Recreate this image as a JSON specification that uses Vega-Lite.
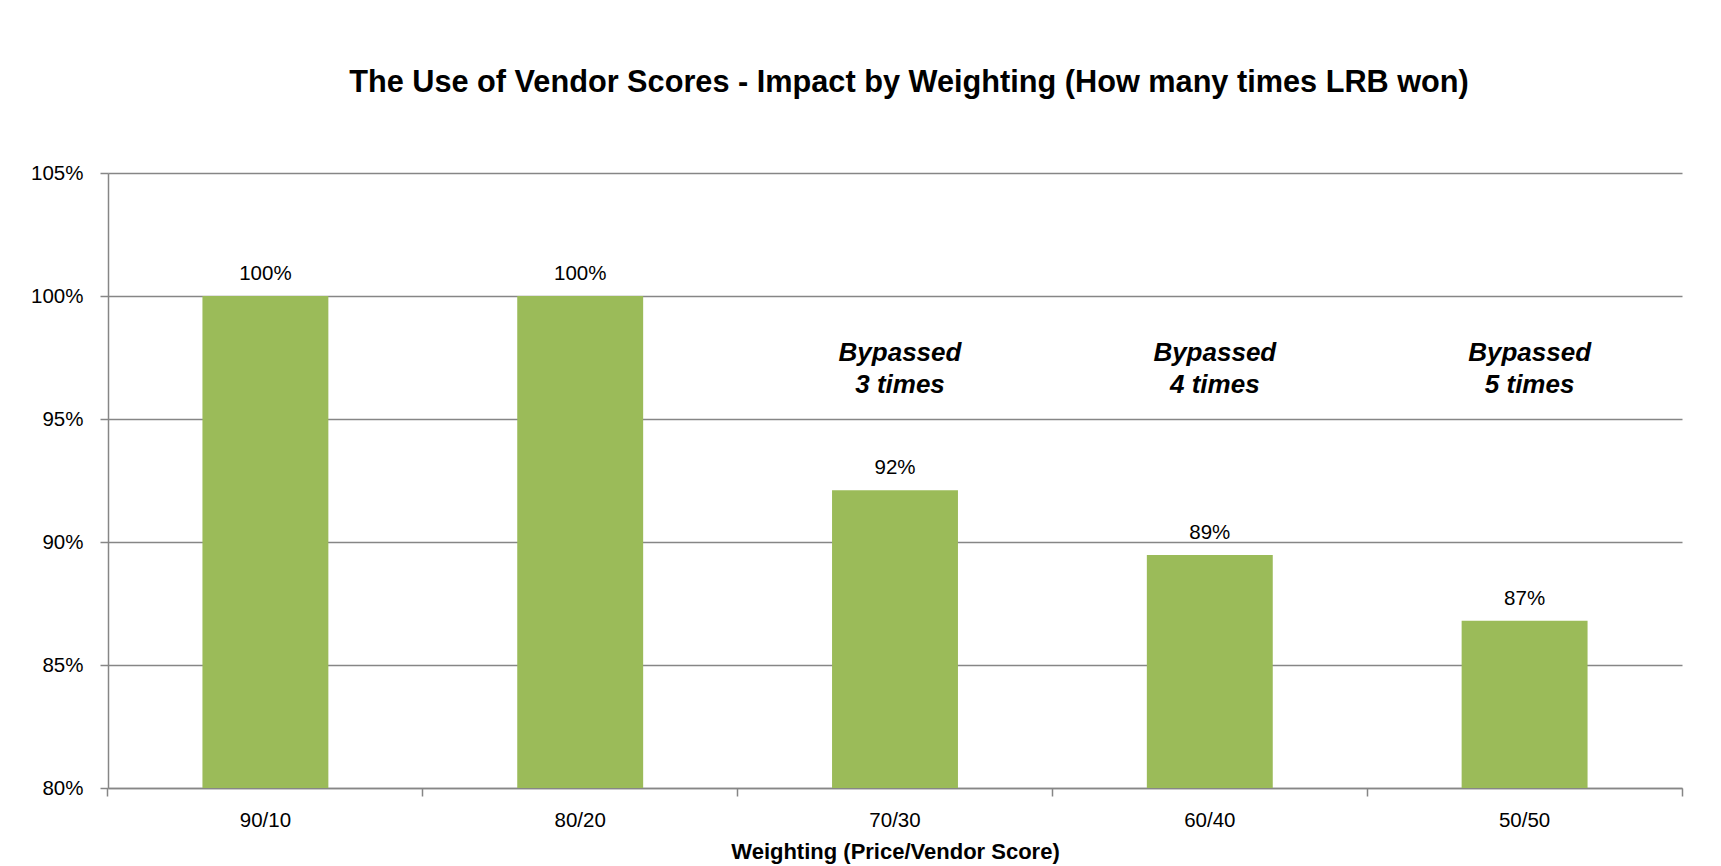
{
  "$schema": "https://vega.github.io/schema/vega-lite/v6.json",
  "width": 1574,
  "height": 615,
  "autosize": {"type": "none"},
  "padding": {"left": 108, "top": 173, "right": 39, "bottom": 78},
  "background": "white",
  "title": {
    "text": "The Use of Vendor Scores - Impact by Weighting (How many times LRB won)",
    "font": "Liberation Sans, Arial, sans-serif",
    "fontSize": 30.7,
    "fontWeight": "bold",
    "color": "#000000",
    "anchor": "middle",
    "frame": "group",
    "baseline": "alphabetic",
    "dx": 14,
    "offset": 40
  },
  "config": {
    "view": {"stroke": null},
    "axis": {
      "labelFont": "Liberation Sans, Arial, sans-serif",
      "labelFontSize": 20.5,
      "labelColor": "#000000",
      "titleFont": "Liberation Sans, Arial, sans-serif",
      "titleColor": "#000000",
      "domainColor": "#868686",
      "domainWidth": 1.5,
      "tickColor": "#868686",
      "tickWidth": 1.5,
      "gridColor": "#868686",
      "gridWidth": 1.5
    }
  },
  "data": {
    "values": [
      {"weighting": "90/10", "won": 1.0, "note": ""},
      {"weighting": "80/20", "won": 1.0, "note": ""},
      {"weighting": "70/30", "won": 0.921, "note": "Bypassed\n3 times"},
      {"weighting": "60/40", "won": 0.8947, "note": "Bypassed\n4 times"},
      {"weighting": "50/50", "won": 0.868, "note": "Bypassed\n5 times"}
    ]
  },
  "layer": [
    {
      "mark": {"type": "bar", "color": "#9BBB59"},
      "encoding": {
        "x": {
          "field": "weighting",
          "type": "nominal",
          "sort": null,
          "scale": {"paddingInner": 0.6, "paddingOuter": 0.3},
          "axis": {
            "orient": "bottom",
            "title": "Weighting (Price/Vendor Score)",
            "titleFontSize": 22,
            "titleFontWeight": "bold",
            "titlePadding": 11,
            "labelAngle": 0,
            "ticks": false,
            "labelPadding": 22,
            "domain": true
          }
        },
        "y": {
          "field": "won",
          "type": "quantitative",
          "scale": {"domain": [0.8, 1.05], "nice": false, "zero": false},
          "axis": {
            "title": null,
            "values": [0.8, 0.85, 0.9, 0.95, 1.0, 1.05],
            "format": ".0%",
            "grid": true,
            "domain": true,
            "ticks": true,
            "tickSize": 8,
            "labelPadding": 17
          }
        },
        "y2": {"datum": 0.8}
      }
    },
    {
      "mark": {
        "type": "text",
        "font": "Liberation Sans, Arial, sans-serif",
        "fontSize": 20.5,
        "color": "#000000",
        "align": "center",
        "baseline": "alphabetic",
        "dy": -16
      },
      "encoding": {
        "x": {
          "field": "weighting",
          "type": "nominal",
          "sort": null,
          "axis": {
            "orient": "bottom",
            "title": null,
            "labels": false,
            "domain": false,
            "ticks": true,
            "tickSize": 8,
            "bandPosition": -0.75
          }
        },
        "y": {"field": "won", "type": "quantitative"},
        "text": {"field": "won", "type": "quantitative", "format": ".0%"}
      }
    },
    {
      "transform": [{"filter": "datum.note != ''"}],
      "mark": {
        "type": "text",
        "font": "Liberation Sans, Arial, sans-serif",
        "fontSize": 26,
        "fontWeight": "bold",
        "fontStyle": "italic",
        "color": "#000000",
        "align": "center",
        "baseline": "middle",
        "lineBreak": "\n",
        "lineHeight": 32,
        "dx": 5
      },
      "encoding": {
        "x": {
          "field": "weighting",
          "type": "nominal",
          "sort": null,
          "axis": {
            "orient": "bottom",
            "title": null,
            "labels": false,
            "domain": false,
            "ticks": true,
            "tickSize": 8,
            "values": ["50/50"],
            "bandPosition": 1.75
          }
        },
        "y": {"datum": 0.977, "type": "quantitative"},
        "text": {"field": "note", "type": "nominal"}
      }
    }
  ],
  "resolve": {"axis": {"x": "independent"}}
}
